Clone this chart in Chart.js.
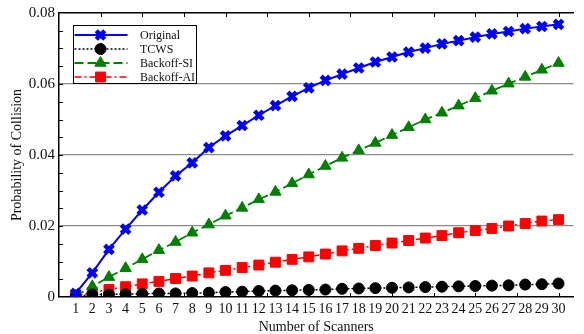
<!DOCTYPE html>
<html>
<head>
<meta charset="utf-8">
<script src="https://cdn.jsdelivr.net/npm/chart.js@4/dist/chart.umd.min.js"></script>
<style>
  html, body { margin: 0; padding: 0; background: #fff; overflow: hidden; }
  #wrap { position: relative; width: 584px; height: 334px; }
</style>
</head>
<body>
<div id="wrap"><canvas id="chart"></canvas></div>
<script>
// Collision probability vs. number of scanners, four schemes.
const scanners = [1, 2, 3, 4, 5, 6, 7, 8, 9, 10, 11, 12, 13, 14, 15,
  16, 17, 18, 19, 20, 21, 22, 23, 24, 25, 26, 27, 28, 29, 30];

const original = [0.0010, 0.0068, 0.0134, 0.0191, 0.0245, 0.0295, 0.0341, 0.0378, 0.0421, 0.0454,
  0.0483, 0.0512, 0.0539, 0.0565, 0.0589, 0.0610, 0.0628, 0.0645, 0.0662, 0.0676,
  0.0690, 0.0701, 0.0713, 0.0722, 0.0732, 0.0741, 0.0748, 0.0756, 0.0762, 0.0768];
const tcws = [0.0002, 0.0007, 0.0007, 0.0008, 0.0009, 0.0010, 0.0010, 0.0011, 0.0012, 0.0014,
  0.0015, 0.0017, 0.0018, 0.0019, 0.0020, 0.0021, 0.0023, 0.0024, 0.0025, 0.0026,
  0.0027, 0.0028, 0.0029, 0.0030, 0.0031, 0.0032, 0.0033, 0.0035, 0.0036, 0.0038];
const backoffSI = [0.0003, 0.0030, 0.0056, 0.0081, 0.0106, 0.0132, 0.0155, 0.0181, 0.0204, 0.0229,
  0.0251, 0.0275, 0.0296, 0.0320, 0.0345, 0.0369, 0.0392, 0.0413, 0.0434, 0.0456,
  0.0478, 0.0500, 0.0519, 0.0539, 0.0560, 0.0581, 0.0601, 0.0620, 0.0640, 0.0659];
const backoffAI = [0.0003, 0.0013, 0.0021, 0.0029, 0.0037, 0.0044, 0.0052, 0.0059, 0.0068, 0.0075,
  0.0083, 0.0090, 0.0098, 0.0106, 0.0113, 0.0121, 0.0130, 0.0137, 0.0145, 0.0152,
  0.0159, 0.0166, 0.0173, 0.0181, 0.0187, 0.0193, 0.0200, 0.0207, 0.0214, 0.0218];

const yTicks = [0, 0.02, 0.04, 0.06, 0.08];
const yTickLabels = ["0", "0.02", "0.04", "0.06", "0.08"];
// small inward tick marks (MATLAB-style)
const xMarkTicks = [2.5, 5, 7.5, 10, 12.5, 15, 17.5, 20, 22.5, 25, 27.5, 30];
const yMarkTicks = [0.005, 0.01, 0.015, 0.02, 0.025, 0.03, 0.035, 0.04, 0.045, 0.05,
  0.055, 0.06, 0.065, 0.07, 0.075];

const FONT = "'Liberation Serif', 'Times New Roman', serif";
const TEXT = "#111";

function pts(values) {
  return scanners.map((s, i) => ({ x: s, y: values[i] }));
}

const datasets = [
  { label: "Original", data: pts(original), borderColor: "#0000ff", backgroundColor: "#0000ff",
    borderWidth: 2, pointStyle: "crossRot", pointRadius: 6, pointBorderWidth: 4.5, pointBorderColor: "#0000ff" },
  { label: "TCWS", data: pts(tcws), borderColor: "#000000", backgroundColor: "#000000",
    borderWidth: 1.5, borderDash: [2, 2], pointStyle: "circle", pointRadius: 5.5,
    pointBorderWidth: 1, pointBackgroundColor: "#000000" },
  { label: "Backoff-SI", data: pts(backoffSI), borderColor: "#008000", backgroundColor: "#008000",
    borderWidth: 1.8, borderDash: [9, 4], pointStyle: "triangle", pointRadius: 6.5,
    pointBorderWidth: 1, pointBackgroundColor: "#008000" },
  { label: "Backoff-AI", data: pts(backoffAI), borderColor: "#ff0000", backgroundColor: "#ff0000",
    borderWidth: 1.5, borderDash: [7, 3, 2, 3], pointStyle: "rect", pointRadius: 7,
    pointBorderWidth: 1, pointBackgroundColor: "#ff0000" },
];
// markers are cut at the axes, like the original figure
datasets.forEach((d) => { d.fill = false; d.tension = 0; d.clip = 0; });

function drawMarker(ctx, ds, x, y) {
  const H = Chart.helpers;
  ctx.save();
  ctx.setLineDash([]);
  ctx.strokeStyle = ds.pointBorderColor || ds.borderColor;
  ctx.fillStyle = ds.pointBackgroundColor || ds.borderColor;
  ctx.lineWidth = ds.pointBorderWidth;
  if (H && H.drawPoint) {
    H.drawPoint(ctx, { pointStyle: ds.pointStyle, radius: ds.pointRadius, borderWidth: ds.pointBorderWidth, rotation: 0 }, x, y);
  } else {
    ctx.beginPath();
    ctx.arc(x, y, ds.pointRadius, 0, Math.PI * 2);
    ctx.fill();
  }
  ctx.restore();
}

// inward tick marks on left, top and bottom edges
const tickMarks = {
  id: "tickMarks",
  afterDraw(chart) {
    const { ctx, chartArea: a, scales } = chart;
    ctx.save();
    ctx.strokeStyle = "#000";
    ctx.lineWidth = 1;
    ctx.beginPath();
    yMarkTicks.forEach((v) => {
      const y = Math.round(scales.y.getPixelForValue(v)) + 0.5;
      ctx.moveTo(a.left, y);
      ctx.lineTo(a.left + 4, y);
    });
    xMarkTicks.forEach((v) => {
      const x = Math.round(scales.x.getPixelForValue(v)) + 0.5;
      ctx.moveTo(x, a.top);
      ctx.lineTo(x, a.top + 4);
      ctx.moveTo(x, a.bottom);
      ctx.lineTo(x, a.bottom - 4);
    });
    ctx.stroke();
    ctx.restore();
  },
};

// boxed legend with line sample + marker, top-left inside the plot
const boxLegend = {
  id: "boxLegend",
  afterDraw(chart) {
    const { ctx } = chart;
    const box = { x: 73.5, y: 25.5, w: 123, h: 58 };
    ctx.save();
    ctx.fillStyle = "#fff";
    ctx.fillRect(box.x, box.y, box.w, box.h);
    ctx.strokeStyle = "#000";
    ctx.lineWidth = 1;
    ctx.strokeRect(box.x, box.y, box.w, box.h);
    ctx.font = "12px " + FONT;
    ctx.textBaseline = "middle";
    chart.data.datasets.forEach((ds, i) => {
      const y = 35 + i * 14;
      ctx.save();
      ctx.strokeStyle = ds.borderColor;
      ctx.lineWidth = ds.borderWidth;
      ctx.setLineDash(ds.borderDash || []);
      ctx.beginPath();
      ctx.moveTo(box.x + 1, y);
      ctx.lineTo(box.x + 54, y);
      ctx.stroke();
      ctx.restore();
      drawMarker(ctx, ds, box.x + 27, y);
      ctx.fillStyle = TEXT;
      ctx.fillText(ds.label, 140, y + 0.5);
    });
    ctx.restore();
  },
};

new Chart(document.getElementById("chart"), {
  type: "line",
  data: { datasets },
  options: {
    responsive: true,
    maintainAspectRatio: false,
    animation: false,
    layout: { padding: { top: 13, right: 0, bottom: 0, left: 0 } },
    plugins: { legend: { display: false }, tooltip: { enabled: false } },
    scales: {
      x: {
        type: "linear",
        position: "bottom",
        min: 0,
        max: 30.9,
        afterBuildTicks: (s) => { s.ticks = scanners.map((v) => ({ value: v })); },
        afterFit: (s) => { s.height = 37; },
        ticks: {
          autoSkip: false,
          maxRotation: 0,
          padding: 4,
          color: TEXT,
          font: { family: FONT, size: 14 },
          callback: (v) => String(v),
        },
        grid: { drawOnChartArea: false, drawTicks: false },
        border: { display: true, color: "#000", width: 1.5 },
        title: {
          display: true,
          text: "Number of Scanners",
          color: TEXT,
          font: { family: FONT, size: 14, lineHeight: 1 },
          padding: 0,
        },
      },
      xTop: {
        type: "linear",
        position: "top",
        min: 0,
        max: 30.9,
        afterFit: (s) => { s.height = 0; },
        ticks: { display: false },
        grid: { drawOnChartArea: false, drawTicks: false },
        border: { display: true, color: "#000", width: 1.5 },
      },
      y: {
        min: 0,
        max: 0.08,
        afterBuildTicks: (s) => { s.ticks = yTicks.map((v) => ({ value: v })); },
        afterFit: (s) => { s.width = 59; },
        ticks: {
          padding: 4,
          color: TEXT,
          font: { family: FONT, size: 15 },
          callback: (v) => yTickLabels[yTicks.indexOf(v)] ?? "",
        },
        grid: {
          drawTicks: false,
          lineWidth: 1.3,
          color: (c) => (c.tick && (c.tick.value === 0 || c.tick.value === 0.08)) ? "rgba(0,0,0,0)" : "#8c8c8c",
        },
        border: { display: true, color: "#000", width: 1.5 },
        title: {
          display: true,
          text: "Probability of Collision",
          color: TEXT,
          font: { family: FONT, size: 14 },
          padding: { top: 9, bottom: 0 },
        },
      },
    },
  },
  plugins: [tickMarks, boxLegend],
});
</script>
</body>
</html>
